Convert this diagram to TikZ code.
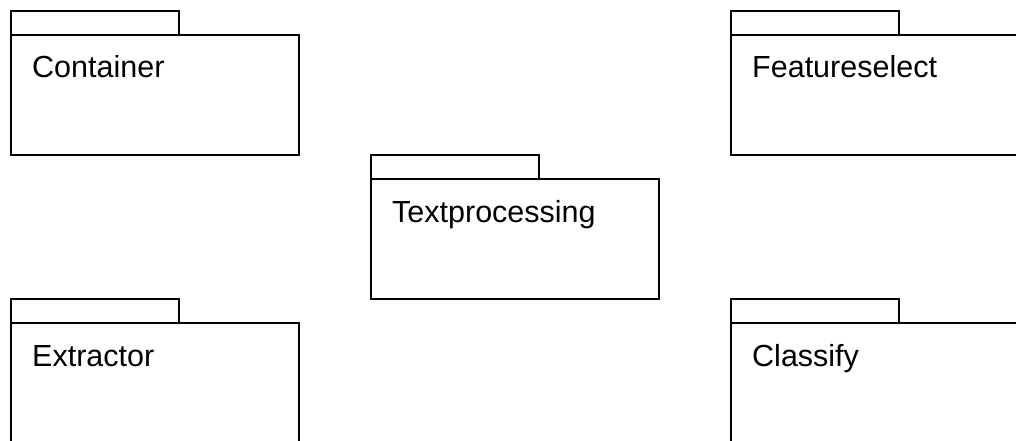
\documentclass[tikz,border=0pt]{standalone}
\usepackage{fontspec}
\setmainfont{Liberation Sans}
\usepackage{tikz}
\usetikzlibrary{positioning}
\tikzset{
  pkgbody/.style={rectangle,draw=black,line width=1.9pt,fill=white,minimum width=288pt,minimum height=120pt,anchor=north west,inner sep=0pt,outer sep=0pt},
  pkgtab/.style={rectangle,draw=black,line width=1.9pt,fill=white,minimum width=168pt,minimum height=24pt,inner sep=0pt,outer sep=0pt,anchor=south west},
  pkgname/.style={inner sep=0pt,anchor=base west,font=\fontsize{30.5}{37}\selectfont}
}

\begin{document}
\begin{tikzpicture}[x=1pt,y=-1pt]
  \clip (0,0) rectangle (1016,441);
  % package bodies
  \node[pkgbody] (container) at (11,35) {};
  \node[pkgbody] (featsel) at (731,35) {};
  \node[pkgbody] (textproc) at (371,179) {};
  \node[pkgbody] (extractor) at (11,323) {};
  \node[pkgbody] (classify) at (731,323) {};
  % tabs on top
  \node[pkgtab, above=0pt of container.north west, anchor=south west] (containertab) {};
  \node[pkgtab, above=0pt of featsel.north west, anchor=south west] (featseltab) {};
  \node[pkgtab, above=0pt of textproc.north west, anchor=south west] (textproctab) {};
  \node[pkgtab, above=0pt of extractor.north west, anchor=south west] (extractortab) {};
  \node[pkgtab, above=0pt of classify.north west, anchor=south west] (classifytab) {};
  % names
  \node[pkgname, below right=43pt and 21pt of container.north west, anchor=base west] (containername) {Container};
  \node[pkgname, below right=43pt and 21pt of featsel.north west, anchor=base west] (featselname) {Featureselect};
  \node[pkgname, below right=43pt and 21pt of textproc.north west, anchor=base west] (textprocname) {Textprocessing};
  \node[pkgname, below right=43pt and 21pt of extractor.north west, anchor=base west] (extractorname) {Extractor};
  \node[pkgname, below right=43pt and 21pt of classify.north west, anchor=base west] (classifyname) {Classify};
\end{tikzpicture}
\end{document}
